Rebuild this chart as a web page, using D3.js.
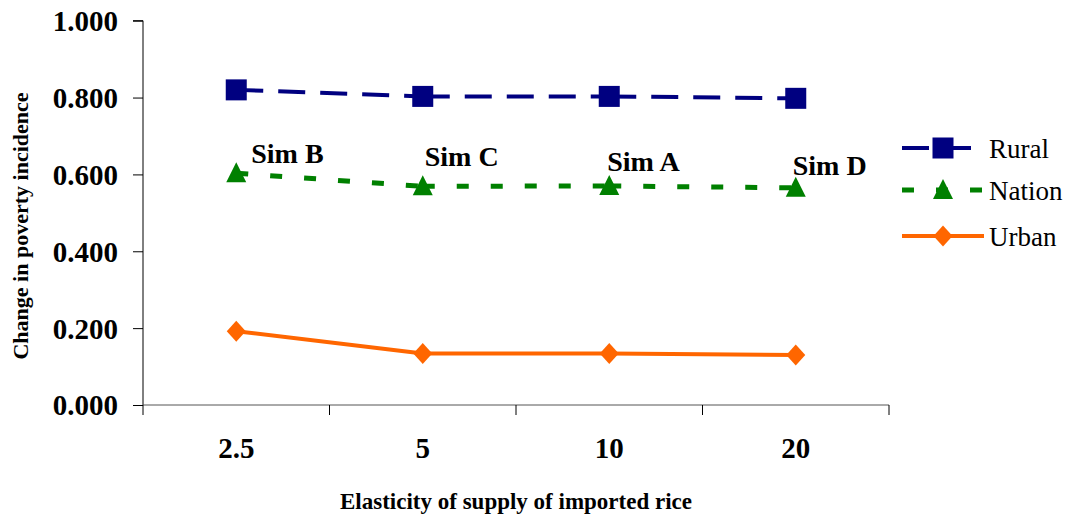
<!DOCTYPE html>
<html>
<head>
<meta charset="utf-8">
<script src="https://cdn.jsdelivr.net/npm/d3@7"></script>
<style>
  html, body { margin: 0; padding: 0; background: #fff; }
  svg { display: block; font-family: "Liberation Serif", "Times New Roman", serif; }
</style>
</head>
<body>
<svg id="chart" width="1072" height="518"></svg>
<script>
// ---- data ----
const categories = ["2.5", "5", "10", "20"];
const rural  = [0.820, 0.803, 0.803, 0.798];
const nation = [0.603, 0.569, 0.570, 0.565];
const urban  = [0.192, 0.134, 0.134, 0.130];
const simLabels = ["Sim B", "Sim C", "Sim A", "Sim D"];
const yTicks = [0, 0.2, 0.4, 0.6, 0.8, 1.0];
const seriesNames = ["Rural", "Nation", "Urban"];

// ---- layout / style ----
const svg = d3.select("#chart");
const plot = { left: 143, right: 889, top: 20.7, bottom: 405 };
const x = d3.scaleBand().domain(categories).range([plot.left, plot.right]).padding(0);
const y = d3.scaleLinear().domain([0, 1]).range([plot.bottom, plot.top]);
const cx = c => x(c) + x.bandwidth() / 2;

const styles = {
  Rural:  { color: "#000080", width: 4, dash: "27,15", marker: "square" },
  Nation: { color: "#008000", width: 5, dash: "12,22", marker: "triangle" },
  Urban:  { color: "#FF6600", width: 4, dash: null,    marker: "diamond" }
};
const labelOffsets = [[15, -10], [2, -20], [-2, -15], [-3, -13]];

// ---- axes ----
const yAxis = d3.axisLeft(y).tickValues(yTicks).tickFormat(d3.format(".3f")).tickSize(10).tickPadding(15);
const gy = svg.append("g").attr("transform", `translate(${plot.left},0)`).call(yAxis);
gy.select(".domain").attr("stroke", "#000").attr("d", `M-10,${plot.top}H0V${plot.bottom}`);
gy.selectAll(".tick line").attr("stroke", "#000");
gy.selectAll(".tick text")
  .attr("fill", "#000").style("font-size", "29px").style("font-weight", "bold")
  .style("font-family", "'Liberation Serif', serif").attr("dy", "0.34em");

const xAxis = d3.axisBottom(x).tickSize(0).tickPadding(42);
const gx = svg.append("g").attr("transform", `translate(0,${plot.bottom})`).call(xAxis);
gx.select(".domain").attr("stroke", "#555").attr("d", `M${plot.left},0H${plot.right}`);
gx.selectAll(".tick text")
  .attr("fill", "#000").style("font-size", "29px").style("font-weight", "bold")
  .style("font-family", "'Liberation Serif', serif").attr("dy", "0");
// boundary ticks
const bounds = categories.map(c => x(c)).concat([x(categories[categories.length - 1]) + x.bandwidth()]);
gx.selectAll("line.bt").data(bounds).enter().append("line")
  .attr("x1", d => d).attr("x2", d => d).attr("y1", 0).attr("y2", 10)
  .attr("stroke", "#000").attr("stroke-width", 1);
gx.selectAll(".tick text").attr("y", 53);

// axis titles
svg.append("text")
  .attr("x", (plot.left + plot.right) / 2).attr("y", 509)
  .attr("text-anchor", "middle").style("font-size", "23px").style("font-weight", "bold")
  .text("Elasticity of supply of imported rice");
svg.append("text")
  .attr("transform", `translate(28,226) rotate(-90)`)
  .attr("text-anchor", "middle").style("font-size", "22px").style("font-weight", "bold")
  .text("Change in poverty incidence");

// ---- series ----
const drawMarker = (g, m, px, py, color) => {
  if (m === "diamond") {
    g.append("path").attr("d", `M${px},${py - 10.5}L${px + 9.5},${py}L${px},${py + 10.5}L${px - 9.5},${py}Z`).attr("fill", color);
  } else if (m === "triangle") {
    g.append("path").attr("d", `M${px},${py - 11}L${px + 10},${py + 9}L${px - 10},${py + 9}Z`).attr("fill", color);
  } else {
    g.append("rect").attr("x", px - 10.5).attr("y", py - 10.5).attr("width", 21).attr("height", 21).attr("fill", color);
  }
};

const seriesData = { Rural: rural, Nation: nation, Urban: urban };
const line = d3.line().x(d => cx(d.c)).y(d => y(d.v));
const drawOrder = ["Urban", "Nation", "Rural"];
drawOrder.forEach(name => {
  const st = styles[name];
  const pts = categories.map((c, i) => ({ c, v: seriesData[name][i] }));
  const g = svg.append("g");
  for (let i = 0; i < pts.length - 1; i++) {
    g.append("path").datum([pts[i], pts[i + 1]])
      .attr("d", line).attr("fill", "none")
      .attr("stroke", st.color).attr("stroke-width", st.width)
      .attr("stroke-dasharray", st.dash);
  }
  pts.forEach(p => drawMarker(g, st.marker, cx(p.c), y(p.v), st.color));
});

// sim labels on Nation points
svg.append("g").selectAll("text").data(simLabels).enter().append("text")
  .attr("x", (d, i) => cx(categories[i]) + labelOffsets[i][0])
  .attr("y", (d, i) => y(nation[i]) + labelOffsets[i][1])
  .style("font-size", "28px").style("font-weight", "bold")
  .text(d => d);

// ---- legend ----
const legendRows = [148, 190, 236];
const leg = svg.append("g");
seriesNames.forEach((name, i) => {
  const st = styles[name];
  const ly = legendRows[i];
  leg.append("line").attr("x1", 902).attr("x2", 984).attr("y1", ly).attr("y2", ly)
    .attr("stroke", st.color).attr("stroke-width", st.width).attr("stroke-dasharray", st.dash);
  drawMarker(leg, st.marker, 943, ly, st.color);
  leg.append("text").attr("x", 989).attr("y", ly + 10)
    .style("font-size", "27px").text(name);
});
</script>
</body>
</html>
